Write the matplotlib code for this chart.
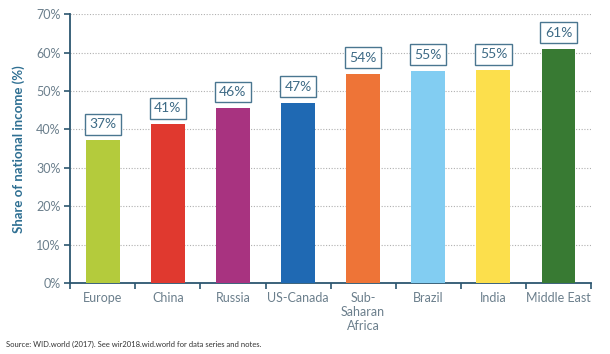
import matplotlib.pyplot as plt
from matplotlib.ticker import FixedLocator, PercentFormatter

regions = ["Europe", "China", "Russia", "US-Canada", "Sub-\nSaharan\nAfrica",
           "Brazil", "India", "Middle East"]
shares = [37.2, 41.4, 45.6, 47.0, 54.5, 55.3, 55.4, 61.0]
labels = ["37%", "41%", "46%", "47%", "54%", "55%", "55%", "61%"]
colors = ["#b4cb3c", "#e0392f", "#a83380", "#1f69b3", "#ee7437",
          "#82cdf2", "#fcdf4c", "#387a33"]

plt.rcParams["font.family"] = ["Lato", "DejaVu Sans"]
axis_col = "#2c5670"
text_col = "#6b7f8c"

fig = plt.figure(figsize=(6.1, 3.54), dpi=100)
ax = fig.add_axes([0.115, 0.2, 0.854, 0.76])

x = range(len(regions))
ax.bar(x, shares, width=0.52, color=colors, zorder=3)

for i in x:
    ax.text(i, shares[i] + 2.6, labels[i], ha="center", va="bottom", fontsize=10,
            color="#3d6a85", zorder=4,
            bbox=dict(boxstyle="square,pad=0.32", fc="white", ec="#4a7690", lw=1))

ax.set_xlim(-0.5, len(regions) - 0.5)
ax.set_ylim(0, 70)
ax.set_yticks(range(0, 71, 10))
ax.yaxis.set_major_formatter(PercentFormatter(decimals=0))
ax.grid(axis="y", linestyle=(0, (1, 1.5)), color="#b0b0b0", lw=0.8, zorder=0)

ax.set_xticks(list(x))
ax.set_xticklabels(regions, fontsize=9, color=text_col, linespacing=1.2)
ax.tick_params(axis="x", which="major", length=0, pad=6)
ax.xaxis.set_minor_locator(FixedLocator([i - 0.5 for i in range(len(regions) + 1)]))
ax.tick_params(axis="x", which="minor", length=4, width=1.2, color=axis_col)
ax.tick_params(axis="y", labelsize=9, labelcolor=text_col, length=4, width=1.2,
               color=axis_col, pad=3)

for side in ["top", "right"]:
    ax.spines[side].set_visible(False)
for side in ["left", "bottom"]:
    ax.spines[side].set_color(axis_col)
    ax.spines[side].set_linewidth(1.3)

ax.set_ylabel("Share of national income (%)", fontsize=9.5, color="#2e6f92",
              fontweight="bold", labelpad=8)

fig.text(0.01, 0.02, "Source: WID.world (2017). See wir2018.wid.world for data series and notes.",
         fontsize=5.5, color="#333333")

fig.savefig("out.png", dpi=100)
